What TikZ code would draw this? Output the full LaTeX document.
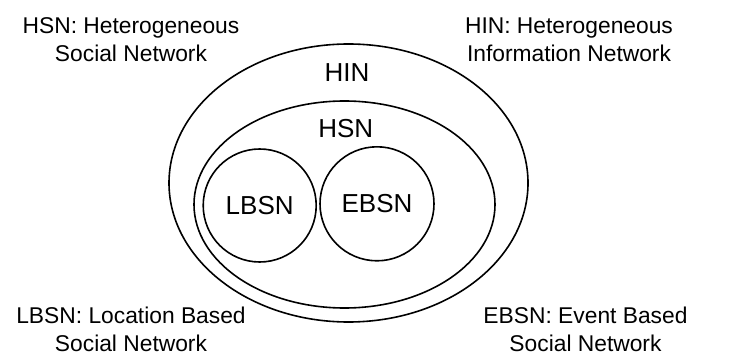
\documentclass[tikz,border=0pt]{standalone}
\usepackage{fontspec}
\setmainfont{Liberation Sans}
\usetikzlibrary{shapes.geometric}
\begin{document}
\begin{tikzpicture}[x=1pt,y=-1pt,
  ring/.style={draw=black, line width=1.6pt, ellipse, inner sep=0pt},
  disc/.style={draw=black, line width=1.6pt, circle, inner sep=0pt, font=\fontsize{26}{30}\selectfont},
  biglabel/.style={font=\fontsize{26}{30}\selectfont, inner sep=0pt},
  legend/.style={font=\fontsize{22.8}{28}\selectfont, align=center, inner sep=0pt, anchor=base}]
\useasboundingbox (0,0) rectangle (738,363);
\node[ring, minimum width=359pt, minimum height=278pt] (hin) at (348.5,183) {};
\node[ring, minimum width=301pt, minimum height=207pt] (hsn) at (344.5,204.5) {};
\node[disc, minimum size=113pt] (lbsn) at (259.7,205.5) {LBSN};
\node[disc, minimum size=114pt] (ebsn) at (377,203.8) {EBSN};
\node[biglabel] (hint) at (347,72.8) {HIN};
\node[biglabel] (hsnt) at (345.7,128.3) {HSN};
\node[legend] (lhsn) at (131,61.3) {HSN: Heterogeneous\\Social Network};
\node[legend] (lhin) at (569,61.3) {HIN: Heterogeneous\\Information Network};
\node[legend] (llbsn) at (131,351.5) {LBSN: Location Based\\Social Network};
\node[legend] (lebsn) at (585.5,351.5) {EBSN: Event Based\\Social Network};
\end{tikzpicture}
\end{document}
